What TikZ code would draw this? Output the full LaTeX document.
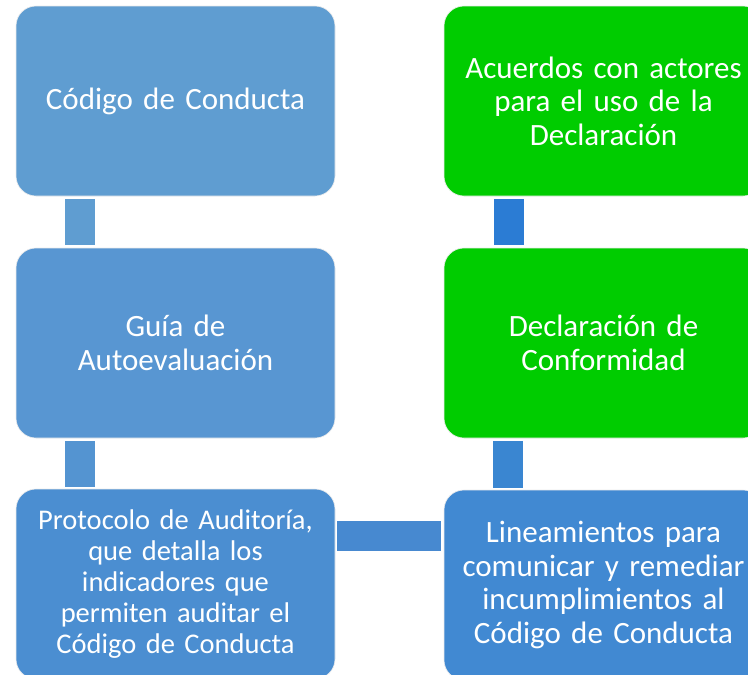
\documentclass[tikz,border=0pt]{standalone}
\usepackage{fontspec}
\setmainfont{Carlito}
\definecolor{bA}{HTML}{5F9DD1}
\definecolor{bB}{HTML}{5896D2}
\definecolor{bC}{HTML}{4B8ED1}
\definecolor{bD}{HTML}{4189D2}
\definecolor{kA}{HTML}{5F9DD1}
\definecolor{kB}{HTML}{5494D1}
\definecolor{kC}{HTML}{4789D0}
\definecolor{kD}{HTML}{3A86D1}
\definecolor{kE}{HTML}{2B7CD4}
\definecolor{gr}{HTML}{00CC00}
\tikzset{
  box/.style={rectangle, rounded corners=20pt, minimum width=319pt, minimum height=190pt,
    text width=312pt, align=center, text=white, inner sep=0pt, draw=white!85!gray, line width=0.6pt,
    font=\fontsize{31}{33.5}\selectfont},
  smalltext/.style={font=\fontsize{28.5}{31}\selectfont},
  conn/.style={line width=30pt, line cap=butt}
}
\begin{document}
\begin{tikzpicture}[x=1pt,y=1pt]
\useasboundingbox (0,0) rectangle (748,-675);
\clip (0,0) rectangle (748,-675);
\fill[white] (0,0) rectangle (748,-675);
\node[box, fill=bA] (cc) at (175.5,-101) {Código de Conducta};
\node[box, fill=bB] (ga) at (175.5,-343) {Guía de\\Autoevaluación};
\node[box, fill=bC, smalltext] (pa) at (175.5,-584) {Protocolo de Auditoría,\\que detalla los\\indicadores que\\permiten auditar el\\Código de Conducta};
\node[box, fill=gr] (ac) at (603.5,-101) {Acuerdos con actores\\para el uso de la\\Declaración};
\node[box, fill=gr] (dc) at (603.5,-343) {Declaración de\\Conformidad};
\node[box, fill=bD] (li) at (603.5,-585) {Lineamientos para\\comunicar y remediar\\incumplimientos al\\Código de Conducta};
\draw[conn, kA] ([xshift=-95.5pt,yshift=-3pt]cc.south) -- ([xshift=-95.5pt,yshift=3pt]ga.north);
\draw[conn, kB] ([xshift=-96pt,yshift=-3pt]ga.south) -- ([xshift=-96pt,yshift=2pt]pa.north);
\draw[conn, kC] ([xshift=2pt,yshift=48pt]pa.east) -- ([xshift=-3pt,yshift=48pt]pa.east -| li.west);
\draw[conn, kD] ([xshift=-96pt,yshift=2pt]li.north) -- ([xshift=-96pt,yshift=-3pt]dc.south);
\draw[conn, kE] ([xshift=-95pt,yshift=3pt]dc.north) -- ([xshift=-95pt,yshift=-3pt]ac.south);
\end{tikzpicture}
\end{document}
